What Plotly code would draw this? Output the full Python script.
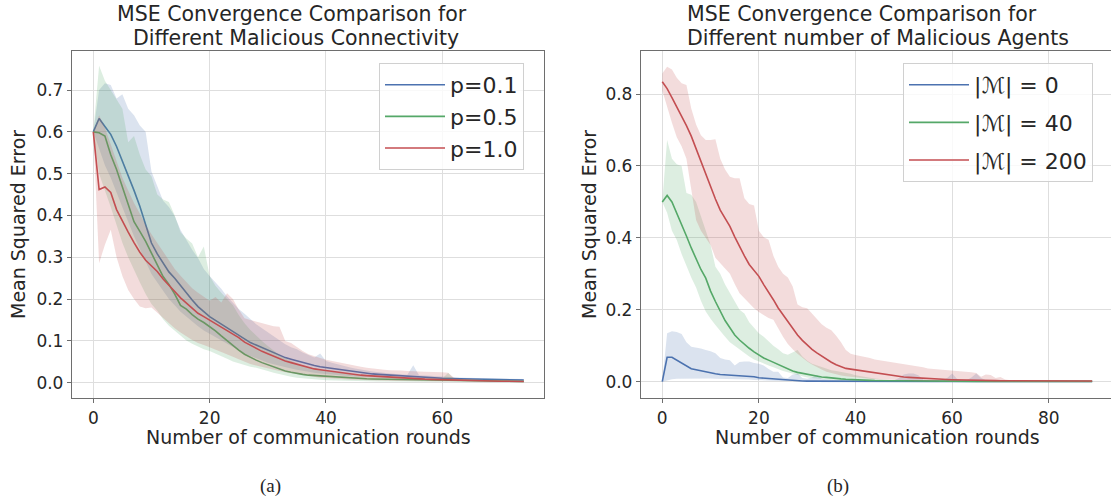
import plotly.graph_objects as go

# ---------------- data: left panel (malicious connectivity) ----------------
rounds_a = list(range(75))

mse_p01 = [0.600,0.632,0.613,0.594,0.565,0.530,0.497,0.460,0.422,0.378,
           0.334,0.308,0.286,0.265,0.250,0.232,0.215,0.198,0.182,0.170,
           0.158,0.149,0.140,0.131,0.122,0.114,0.104,0.096,0.090,0.084,
           0.078,0.072,0.065,0.060,0.056,0.052,0.048,0.044,0.041,0.038,
           0.036,0.034,0.032,0.030,0.028,0.026,0.024,0.022,0.021,0.020,
           0.019,0.018,0.017,0.016,0.015,0.014,0.013,0.0125,0.012,0.011,
           0.0105,0.010,0.0098,0.0095,0.009,0.0088,0.0085,0.008,0.0078,0.0075,
           0.0072,0.007,0.0068,0.0066,0.0065]
hi_p01 = [0.600,0.700,0.716,0.712,0.680,0.690,0.655,0.640,0.615,0.600,
          0.505,0.470,0.435,0.420,0.398,0.365,0.340,0.318,0.298,0.272,
          0.255,0.240,0.225,0.206,0.190,0.176,0.165,0.152,0.140,0.130,
          0.120,0.110,0.100,0.092,0.085,0.080,0.072,0.066,0.060,0.070,
          0.052,0.048,0.044,0.040,0.037,0.034,0.031,0.029,0.027,0.025,
          0.023,0.022,0.021,0.020,0.019,0.042,0.018,0.017,0.016,0.015,
          0.014,0.0135,0.013,0.0125,0.012,0.0115,0.011,0.0105,0.010,0.0098,
          0.0095,0.0092,0.009,0.0088,0.0086]
lo_p01 = [0.600,0.560,0.520,0.490,0.455,0.420,0.385,0.350,0.320,0.290,
          0.260,0.240,0.220,0.200,0.185,0.170,0.158,0.146,0.135,0.125,
          0.116,0.108,0.100,0.092,0.085,0.078,0.070,0.064,0.058,0.053,
          0.048,0.044,0.040,0.037,0.034,0.031,0.028,0.026,0.024,0.022,
          0.020,0.019,0.018,0.017,0.016,0.015,0.014,0.013,0.012,0.0115,
          0.011,0.0105,0.010,0.0095,0.009,0.0085,0.008,0.0078,0.0075,0.0072,
          0.007,0.0068,0.0066,0.0064,0.0062,0.006,0.0058,0.0056,0.0054,0.0052,
          0.005,0.0049,0.0048,0.0047,0.0046]

mse_p05 = [0.600,0.598,0.590,0.545,0.510,0.470,0.425,0.385,0.362,0.338,
           0.310,0.282,0.254,0.235,0.212,0.185,0.176,0.163,0.152,0.144,
           0.135,0.124,0.112,0.100,0.088,0.078,0.068,0.060,0.054,0.048,
           0.043,0.037,0.032,0.028,0.025,0.022,0.020,0.018,0.017,0.016,
           0.015,0.014,0.013,0.012,0.011,0.0105,0.010,0.0095,0.009,0.0088,
           0.0085,0.0082,0.008,0.0077,0.0074,0.0071,0.0068,0.0065,0.0062,0.006,
           0.0057,0.0055,0.0052,0.005,0.0048,0.0046,0.0044,0.0042,0.004,0.0038,
           0.0036,0.0034,0.0032,0.0031,0.003]
hi_p05 = [0.600,0.758,0.722,0.700,0.680,0.655,0.575,0.590,0.545,0.510,
          0.494,0.450,0.438,0.432,0.400,0.360,0.345,0.333,0.300,0.326,
          0.255,0.232,0.215,0.200,0.185,0.162,0.142,0.126,0.112,0.100,
          0.088,0.076,0.066,0.058,0.052,0.046,0.041,0.037,0.034,0.031,
          0.028,0.026,0.024,0.022,0.021,0.020,0.019,0.018,0.017,0.016,
          0.015,0.0145,0.014,0.0135,0.013,0.0125,0.012,0.0115,0.011,0.0105,
          0.010,0.023,0.0095,0.009,0.0088,0.0085,0.0082,0.008,0.0078,0.0076,
          0.0074,0.0072,0.007,0.0068,0.0066]
lo_p05 = [0.600,0.500,0.460,0.420,0.380,0.335,0.300,0.270,0.240,0.212,
          0.188,0.172,0.152,0.136,0.126,0.113,0.101,0.093,0.086,0.080,
          0.076,0.070,0.063,0.057,0.051,0.046,0.042,0.038,0.036,0.032,
          0.028,0.024,0.020,0.017,0.014,0.012,0.010,0.009,0.008,0.007,
          0.006,0.0055,0.005,0.0045,0.004,0.0038,0.0036,0.0034,0.0032,0.003,
          0.0028,0.0026,0.0024,0.0022,0.002,0.0019,0.0018,0.0017,0.0016,0.0015,
          0.0014,0.0013,0.0012,0.0011,0.001,0.001,0.001,0.001,0.001,0.001,
          0.001,0.001,0.001,0.001,0.001]

mse_p10 = [0.600,0.462,0.468,0.455,0.414,0.385,0.360,0.335,0.312,0.293,
           0.280,0.266,0.248,0.232,0.218,0.203,0.190,0.178,0.166,0.158,
           0.150,0.142,0.134,0.125,0.117,0.108,0.097,0.089,0.082,0.075,
           0.069,0.063,0.057,0.052,0.048,0.044,0.040,0.036,0.033,0.031,
           0.029,0.027,0.025,0.023,0.021,0.019,0.018,0.017,0.016,0.015,
           0.014,0.013,0.012,0.011,0.010,0.0095,0.009,0.0085,0.008,0.0075,
           0.007,0.0065,0.006,0.0056,0.0052,0.0048,0.0045,0.0042,0.004,0.0038,
           0.0036,0.0034,0.0032,0.0031,0.003]
hi_p10 = [0.600,0.640,0.610,0.570,0.530,0.490,0.460,0.430,0.405,0.378,
          0.355,0.335,0.312,0.292,0.272,0.256,0.241,0.226,0.215,0.205,
          0.196,0.205,0.192,0.214,0.200,0.175,0.154,0.150,0.146,0.142,
          0.138,0.135,0.134,0.100,0.095,0.085,0.076,0.068,0.063,0.059,
          0.055,0.052,0.050,0.046,0.043,0.040,0.038,0.036,0.034,0.032,
          0.031,0.030,0.030,0.029,0.028,0.028,0.027,0.026,0.026,0.025,
          0.025,0.024,0.012,0.008,0.0075,0.007,0.0065,0.006,0.0058,0.0056,
          0.0054,0.0052,0.005,0.0048,0.0046]
lo_p10 = [0.600,0.286,0.330,0.366,0.300,0.255,0.222,0.200,0.182,0.178,
          0.180,0.168,0.155,0.142,0.130,0.120,0.110,0.102,0.095,0.090,
          0.085,0.080,0.074,0.068,0.062,0.056,0.050,0.045,0.041,0.037,
          0.034,0.031,0.028,0.025,0.022,0.020,0.018,0.016,0.014,0.012,
          0.011,0.010,0.009,0.008,0.0075,0.007,0.0065,0.006,0.0055,0.005,
          0.0046,0.0042,0.004,0.0038,0.0036,0.0034,0.0032,0.003,0.0028,0.0026,
          0.0024,0.0022,0.002,0.002,0.002,0.002,0.002,0.002,0.002,0.002,
          0.002,0.002,0.002,0.002,0.002]

# ---------------- data: right panel (number of malicious agents) ----------------
rounds_b = list(range(90))

mse_m0 = [0.000,0.068,0.068,0.060,0.050,0.042,0.036,0.033,0.030,0.026,
          0.024,0.022,0.020,0.019,0.018,0.017,0.016,0.015,0.016,0.014,
          0.011,0.010,0.008,0.007,0.006,0.004,0.003,0.002,0.002,0.0018,
          0.0016,0.0015,0.0014,0.0013,0.0012,0.0011,0.001,0.001,0.001,0.001,
          0.0009,0.0009,0.0009,0.0009,0.0009,0.0008,0.0008,0.0008,0.0008,0.0008,
          0.0008,0.0008,0.0008,0.0008,0.0008,0.0007,0.0007,0.0007,0.0007,0.0007,
          0.0007,0.0007,0.0007,0.0007,0.0007,0.0006,0.0006,0.0006,0.0006,0.0006,
          0.0006,0.0006,0.0006,0.0006,0.0006,0.0005,0.0005,0.0005,0.0005,0.0005,
          0.0005,0.0005,0.0005,0.0005,0.0005,0.0005,0.0005,0.0005,0.0005,0.0005]
hi_m0 = [0.000,0.135,0.140,0.138,0.133,0.110,0.097,0.095,0.092,0.088,
         0.085,0.079,0.066,0.062,0.060,0.045,0.055,0.056,0.056,0.052,
         0.050,0.045,0.035,0.028,0.028,0.012,0.010,0.020,0.023,0.010,
         0.008,0.012,0.019,0.008,0.006,0.005,0.005,0.005,0.005,0.005,
         0.004,0.004,0.004,0.004,0.004,0.004,0.004,0.004,0.004,0.010,
         0.020,0.023,0.023,0.018,0.006,0.004,0.004,0.004,0.004,0.010,
         0.023,0.008,0.004,0.004,0.012,0.023,0.010,0.004,0.003,0.003,
         0.003,0.003,0.003,0.003,0.003,0.003,0.003,0.003,0.003,0.003,
         0.003,0.003,0.003,0.003,0.003,0.003,0.003,0.003,0.003,0.003]
lo_m0 = [0.000,0.004,0.007,0.008,0.009,0.010,0.010,0.010,0.009,0.009,
         0.009,0.008,0.008,0.008,0.007,0.007,0.006,0.006,0.006,0.005,
         0.004,0.004,0.003,0.003,0.002,0.002,0.001,0.001,0.001,0.000,
         0.000,0.000,0.000,0.000,0.000,0.000,0.000,0.000,0.000,0.000,
         0.000,0.000,0.000,0.000,0.000,0.000,0.000,0.000,0.000,0.000,
         0.000,0.000,0.000,0.000,0.000,0.000,0.000,0.000,0.000,0.000,
         0.000,0.000,0.000,0.000,0.000,0.000,0.000,0.000,0.000,0.000,
         0.000,0.000,0.000,0.000,0.000,0.000,0.000,0.000,0.000,0.000,
         0.000,0.000,0.000,0.000,0.000,0.000,0.000,0.000,0.000,0.000]

mse_m40 = [0.500,0.518,0.500,0.470,0.440,0.405,0.372,0.340,0.312,0.288,
           0.252,0.223,0.196,0.170,0.150,0.130,0.116,0.104,0.093,0.083,
           0.074,0.066,0.060,0.054,0.047,0.040,0.035,0.030,0.026,0.023,
           0.020,0.017,0.015,0.013,0.012,0.010,0.009,0.008,0.007,0.006,
           0.005,0.0045,0.004,0.0036,0.0032,0.003,0.0028,0.0026,0.0024,0.0022,
           0.002,0.0019,0.0018,0.0017,0.0016,0.0015,0.0014,0.0013,0.0012,0.0011,
           0.001,0.001,0.001,0.001,0.001,0.001,0.001,0.001,0.001,0.001,
           0.001,0.001,0.001,0.001,0.001,0.001,0.001,0.001,0.001,0.001,
           0.001,0.001,0.001,0.001,0.001,0.001,0.001,0.001,0.001,0.001]
hi_m40 = [0.500,0.672,0.620,0.605,0.600,0.525,0.520,0.500,0.460,0.420,
          0.380,0.320,0.300,0.270,0.246,0.220,0.200,0.190,0.165,0.150,
          0.135,0.125,0.112,0.100,0.090,0.079,0.075,0.082,0.088,0.070,
          0.058,0.050,0.045,0.040,0.036,0.032,0.030,0.028,0.026,0.022,
          0.018,0.015,0.013,0.011,0.009,0.007,0.006,0.005,0.004,0.004,
          0.004,0.003,0.003,0.003,0.003,0.003,0.003,0.003,0.003,0.003,
          0.003,0.003,0.003,0.003,0.003,0.003,0.003,0.003,0.003,0.003,
          0.003,0.003,0.003,0.003,0.003,0.003,0.003,0.003,0.003,0.003,
          0.003,0.003,0.003,0.003,0.003,0.003,0.003,0.003,0.003,0.003]
lo_m40 = [0.500,0.470,0.420,0.394,0.355,0.320,0.290,0.262,0.225,0.195,
          0.175,0.158,0.140,0.125,0.110,0.098,0.090,0.080,0.070,0.062,
          0.056,0.050,0.045,0.040,0.036,0.030,0.026,0.022,0.018,0.015,
          0.012,0.010,0.008,0.007,0.006,0.005,0.004,0.004,0.003,0.003,
          0.002,0.002,0.002,0.001,0.001,0.001,0.001,0.001,0.001,0.001,
          0.000,0.000,0.000,0.000,0.000,0.000,0.000,0.000,0.000,0.000,
          0.000,0.000,0.000,0.000,0.000,0.000,0.000,0.000,0.000,0.000,
          0.000,0.000,0.000,0.000,0.000,0.000,0.000,0.000,0.000,0.000,
          0.000,0.000,0.000,0.000,0.000,0.000,0.000,0.000,0.000,0.000]

mse_m200 = [0.834,0.815,0.790,0.765,0.738,0.712,0.683,0.648,0.612,0.575,
            0.540,0.508,0.477,0.455,0.432,0.403,0.375,0.350,0.326,0.310,
            0.293,0.270,0.250,0.228,0.205,0.186,0.168,0.150,0.130,0.115,
            0.102,0.090,0.080,0.071,0.062,0.054,0.047,0.042,0.037,0.035,
            0.033,0.030,0.027,0.025,0.023,0.021,0.019,0.017,0.016,0.014,
            0.013,0.012,0.011,0.010,0.009,0.008,0.0075,0.007,0.0065,0.006,
            0.0055,0.005,0.0045,0.004,0.0038,0.0035,0.0032,0.003,0.003,0.003,
            0.0028,0.0028,0.0027,0.0026,0.0025,0.0025,0.0024,0.0024,0.0023,0.0023,
            0.0022,0.0022,0.0022,0.0021,0.0021,0.002,0.002,0.002,0.002,0.002]
hi_m200 = [0.857,0.876,0.868,0.845,0.830,0.825,0.760,0.715,0.685,0.672,
           0.672,0.674,0.620,0.590,0.570,0.566,0.566,0.510,0.494,0.490,
           0.420,0.402,0.395,0.350,0.320,0.300,0.290,0.265,0.215,0.207,
           0.204,0.190,0.175,0.160,0.150,0.143,0.128,0.110,0.088,0.078,
           0.074,0.072,0.070,0.066,0.062,0.060,0.058,0.056,0.054,0.052,
           0.050,0.048,0.046,0.042,0.040,0.037,0.036,0.034,0.033,0.032,
           0.031,0.030,0.029,0.028,0.026,0.024,0.014,0.020,0.019,0.010,
           0.013,0.006,0.004,0.003,0.003,0.003,0.003,0.003,0.003,0.003,
           0.003,0.003,0.003,0.003,0.003,0.003,0.003,0.003,0.003,0.003]
lo_m200 = [0.810,0.765,0.720,0.680,0.655,0.620,0.540,0.450,0.420,0.400,
           0.380,0.345,0.330,0.315,0.300,0.272,0.246,0.230,0.218,0.204,
           0.194,0.185,0.177,0.172,0.150,0.125,0.105,0.090,0.078,0.066,
           0.056,0.048,0.040,0.034,0.028,0.024,0.020,0.017,0.015,0.013,
           0.011,0.010,0.009,0.008,0.007,0.006,0.006,0.005,0.005,0.004,
           0.004,0.004,0.003,0.003,0.003,0.003,0.002,0.002,0.002,0.002,
           0.002,0.002,0.002,0.002,0.002,0.001,0.001,0.001,0.001,0.001,
           0.001,0.001,0.001,0.001,0.001,0.001,0.001,0.001,0.001,0.001,
           0.001,0.001,0.001,0.001,0.001,0.001,0.001,0.001,0.001,0.001]

labels_a = ["p=0.1", "p=0.5", "p=1.0"]
labels_b = ["|ℳ| = 0", "|ℳ| = 40", "|ℳ| = 200"]
xticks_a = [0, 20, 40, 60]
yticks_a = [0.0, 0.1, 0.2, 0.3, 0.4, 0.5, 0.6, 0.7]
xticks_b = [0, 20, 40, 60, 80]
yticks_b = [0.0, 0.2, 0.4, 0.6, 0.8]

COLORS = ["#4C72B0", "#55A868", "#C44E52"]
FILLS = ["rgba(76,114,176,0.2)", "rgba(85,168,104,0.2)", "rgba(196,78,82,0.2)"]
FONT = "DejaVu Sans"
TXT = "#262626"

fig = go.Figure()

def add_series(x, mean, lo, hi, name, i, xa, ya, legend):
    fig.add_trace(go.Scatter(x=x, y=mean, mode="lines", name=name,
                             line=dict(color=COLORS[i], width=1.6),
                             xaxis=xa, yaxis=ya, legend=legend,
                             legendgroup=legend + str(i)))
    fig.add_trace(go.Scatter(x=list(x) + list(x)[::-1], y=list(hi) + list(lo)[::-1],
                             mode="lines", fill="toself", fillcolor=FILLS[i],
                             line=dict(width=0), hoverinfo="skip", showlegend=False,
                             xaxis=xa, yaxis=ya))

left = [(mse_p01, lo_p01, hi_p01), (mse_p05, lo_p05, hi_p05), (mse_p10, lo_p10, hi_p10)]
right = [(mse_m0, lo_m0, hi_m0), (mse_m40, lo_m40, hi_m40), (mse_m200, lo_m200, hi_m200)]
for i, (m, lo, hi) in enumerate(left):
    add_series(rounds_a, m, lo, hi, labels_a[i], i, "x", "y", "legend")
for i, (m, lo, hi) in enumerate(right):
    add_series(rounds_b, m, lo, hi, labels_b[i], i, "x2", "y2", "legend2")

W, H = 1111, 500
def px_x(p): return p / W
def px_y(p): return 1 - p / H

axis_common = dict(showline=True, linecolor="#6e6e6e", linewidth=1.3, mirror=True,
                   showgrid=True, gridcolor="#dedede", gridwidth=1,
                   ticks="outside", ticklen=4, tickcolor="#6e6e6e", tickwidth=1,
                   tickfont=dict(family=FONT, size=17, color=TXT), zeroline=False)

fig.update_layout(
    width=W, height=H, margin=dict(l=0, r=0, t=0, b=0),
    plot_bgcolor="white", paper_bgcolor="white",
    xaxis=dict(domain=[px_x(72), px_x(544)], range=[-3.66, 77.48],
               tickvals=xticks_a, anchor="y", **axis_common),
    yaxis=dict(domain=[px_y(398), px_y(51)], range=[-0.0366, 0.7934],
               tickvals=yticks_a, tickformat=".1f", anchor="x", **axis_common),
    xaxis2=dict(domain=[px_x(641), 1.0], range=[-4.405, 92.9],
                tickvals=xticks_b, anchor="y2", **axis_common),
    yaxis2=dict(domain=[px_y(398), px_y(51)], range=[-0.0453, 0.9196],
                tickvals=yticks_b, tickformat=".1f", anchor="x2", **axis_common),
    legend=dict(x=px_x(379), y=px_y(63), xanchor="left", yanchor="top",
                font=dict(family=FONT, size=22, color=TXT), itemwidth=60,
                bgcolor="rgba(255,255,255,0.8)", bordercolor="#d0d0d0", borderwidth=1,
                traceorder="grouped", tracegroupgap=0),
    legend2=dict(x=px_x(903), y=px_y(63), xanchor="left", yanchor="top",
                 font=dict(family=FONT, size=22, color=TXT), itemwidth=60,
                 bgcolor="rgba(255,255,255,0.8)", bordercolor="#d0d0d0", borderwidth=1,
                 traceorder="grouped", tracegroupgap=6),
    showlegend=True,
)

def ann(text, x, y, size, family=FONT, angle=0):
    fig.add_annotation(text=text, x=px_x(x), y=px_y(y), xref="paper", yref="paper",
                       showarrow=False, textangle=angle, xanchor="center", yanchor="middle",
                       font=dict(family=family, size=size, color=TXT))

# titles
ann("MSE Convergence Comparison for", 292, 14, 20.5)
ann("Different Malicious Connectivity", 296, 38, 20.5)
ann("MSE Convergence Comparison for", 862, 14, 20.5)
ann("Different number of Malicious Agents", 878, 38, 20.5)
# axis titles
ann("Number of communication rounds", 308, 437, 19)
ann("Number of communication rounds", 877, 437, 19)
ann("Mean Squared Error", 18, 225, 19, angle=-90)
ann("Mean Squared Error", 589, 225, 19, angle=-90)
# captions
ann("(a)", 270, 486, 19, family="Liberation Serif")
ann("(b)", 838, 486, 19, family="Liberation Serif")

fig.write_html("out.html", config={"displayModeBar": False},
               post_script="document.body.style.margin='0';")
